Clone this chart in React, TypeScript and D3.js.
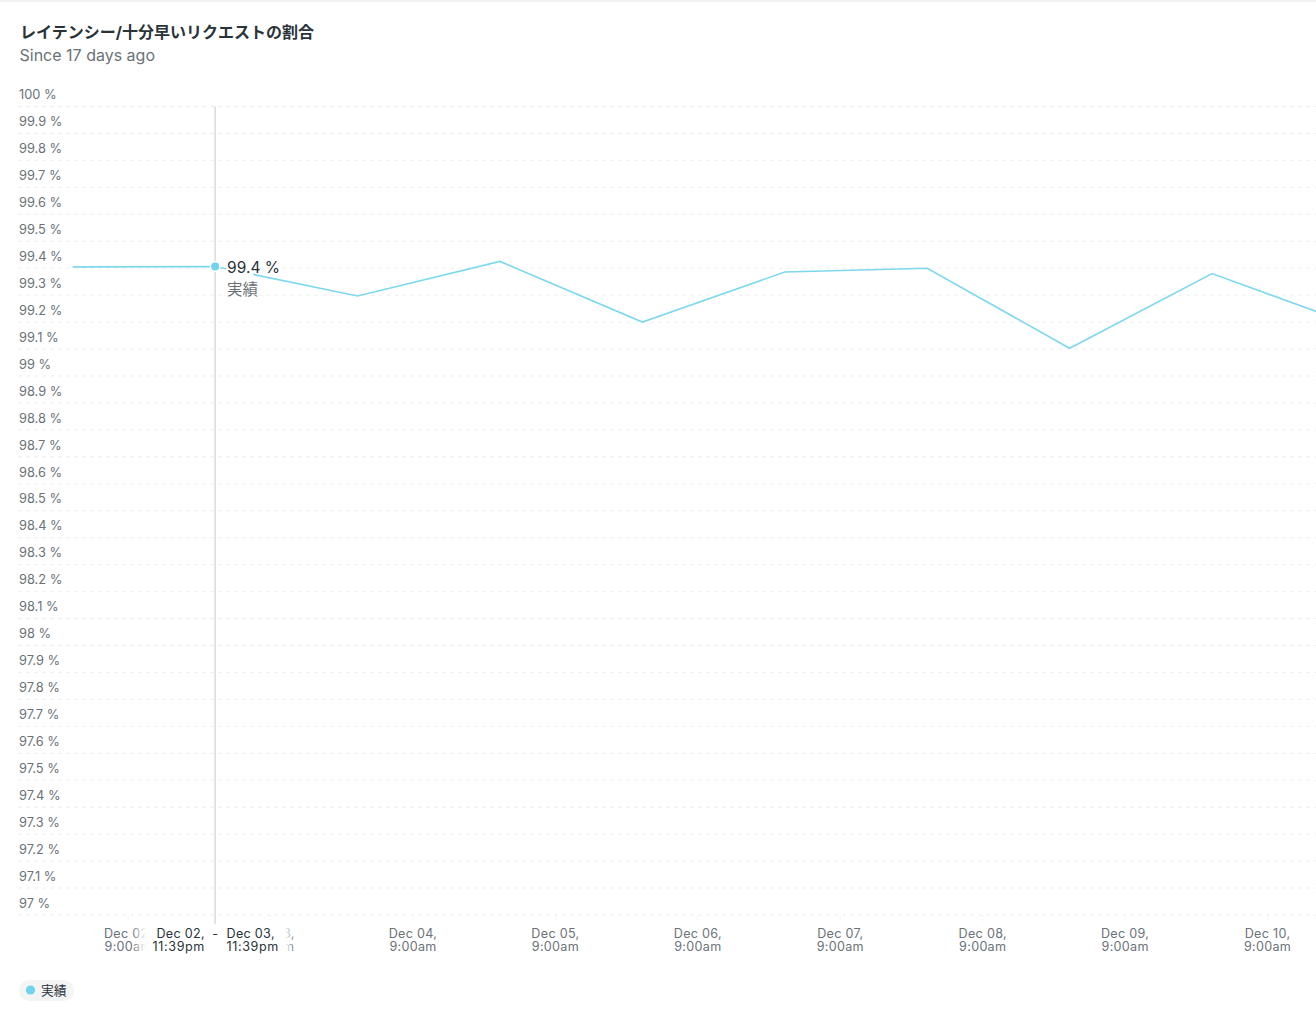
import { useEffect, useRef } from "react";
import * as d3 from "d3";

const TITLE = "レイテンシー/十分早いリクエストの割合";
const SUBTITLE = "Since 17 days ago";
const SERIES_NAME = "実績";

const POINT_TIMES = [
  "2022-12-01T23:39Z",
  "2022-12-02T23:39Z",
  "2022-12-03T23:39Z",
  "2022-12-04T23:39Z",
  "2022-12-05T23:39Z",
  "2022-12-06T23:39Z",
  "2022-12-07T23:39Z",
  "2022-12-08T23:39Z",
  "2022-12-09T23:39Z",
  "2022-12-10T23:39Z",
].map((d) => new Date(d));
const POINT_VALUES = [99.405, 99.406, 99.297, 99.425, 99.2, 99.386, 99.4, 99.103, 99.38, 99.188];

const TICK_TIMES = [
  "2022-12-02T09:00Z",
  "2022-12-03T09:00Z",
  "2022-12-04T09:00Z",
  "2022-12-05T09:00Z",
  "2022-12-06T09:00Z",
  "2022-12-07T09:00Z",
  "2022-12-08T09:00Z",
  "2022-12-09T09:00Z",
  "2022-12-10T09:00Z",
].map((d) => new Date(d));
const TICK_DAYS = ["Dec 02,", "Dec 03,", "Dec 04,", "Dec 05,", "Dec 06,", "Dec 07,", "Dec 08,", "Dec 09,", "Dec 10,"];
const TICK_HOUR = "9:00am";

const Y_TICKS = [
  100, 99.9, 99.8, 99.7, 99.6, 99.5, 99.4, 99.3, 99.2, 99.1, 99, 98.9, 98.8, 98.7, 98.6, 98.5, 98.4, 98.3, 98.2, 98.1,
  98, 97.9, 97.8, 97.7, 97.6, 97.5, 97.4, 97.3, 97.2, 97.1, 97,
];

const HOVER_INDEX = 1;
const HOVER_LABEL = "99.4 %";
const HOVER_START = ["Dec 02,", "11:39pm"];
const HOVER_END = ["Dec 03,", "11:39pm"];

const LINE_COLOR = "#7dd8ee";
const DOT_COLOR = "#6fd3f0";
const MUTED = "#6b7278";
const DARK = "#293338";
const FONT = "Inter, 'Noto Sans CJK JP', sans-serif";

export default function App() {
  const ref = useRef<SVGSVGElement | null>(null);
  const width = 1316;
  const height = 1018;

  useEffect(() => {
    const svg = d3.select(ref.current);
    svg.selectAll("*").remove();
    svg.attr("font-family", FONT);

    const x = d3
      .scaleUtc()
      .domain([POINT_TIMES[0], POINT_TIMES[POINT_TIMES.length - 1]])
      .range([72.7, 1354.5]);
    const y = d3.scaleLinear().domain([97, 100]).range([915, 106.5]);

    const defs = svg.append("defs");
    const fadeL = defs.append("linearGradient").attr("id", "fade-left");
    fadeL.append("stop").attr("offset", 0).attr("stop-color", "#fff").attr("stop-opacity", 0);
    fadeL.append("stop").attr("offset", 1).attr("stop-color", "#fff").attr("stop-opacity", 1);
    const fadeR = defs.append("linearGradient").attr("id", "fade-right");
    fadeR.append("stop").attr("offset", 0).attr("stop-color", "#fff").attr("stop-opacity", 1);
    fadeR.append("stop").attr("offset", 1).attr("stop-color", "#fff").attr("stop-opacity", 0);

    // top edge
    svg.append("rect").attr("width", width).attr("height", 2).attr("fill", "#f1f2f2");

    svg.append("text").attr("x", 20).attr("y", 38).attr("font-size", 16).attr("font-weight", 700).attr("fill", DARK).text(TITLE);
    svg.append("text").attr("x", 19.5).attr("y", 61).attr("font-size", 16).attr("fill", MUTED).text(SUBTITLE);

    // grid + y labels
    const grid = svg.append("g");
    Y_TICKS.forEach((t) => {
      grid
        .append("line")
        .attr("x1", 19)
        .attr("x2", width)
        .attr("y1", y(t))
        .attr("y2", y(t))
        .attr("stroke", "#e9ebeb")
        .attr("stroke-width", 1)
        .attr("stroke-dasharray", "3 5");
      grid
        .append("text")
        .attr("x", 19)
        .attr("y", y(t) - 7.3)
        .attr("font-size", 12.8)
        .attr("fill", MUTED)
        .text(`${t} %`);
    });

    // x ticks
    const ticks = svg.append("g");
    TICK_TIMES.forEach((t, i) => {
      ticks
        .append("line")
        .attr("x1", x(t))
        .attr("x2", x(t))
        .attr("y1", 915)
        .attr("y2", 923)
        .attr("stroke", "#f0f1f1")
        .attr("stroke-dasharray", "2 2");
      const label = ticks
        .append("text")
        .attr("text-anchor", "middle")
        .attr("font-size", 12.6)
        .attr("letter-spacing", 0.3)
        .attr("fill", MUTED);
      label.append("tspan").attr("x", x(t)).attr("y", 938).text(TICK_DAYS[i]);
      label.append("tspan").attr("x", x(t)).attr("y", 951).text(TICK_HOUR);
    });

    const line = d3
      .line<number>()
      .x((_, i) => x(POINT_TIMES[i]))
      .y((d) => y(d));
    svg
      .append("path")
      .attr("d", line(POINT_VALUES)!)
      .attr("fill", "none")
      .attr("stroke", LINE_COLOR)
      .attr("stroke-width", 1.6);

    // hover cursor
    const hx = x(POINT_TIMES[HOVER_INDEX]);
    const hy = y(POINT_VALUES[HOVER_INDEX]);
    svg
      .append("line")
      .attr("x1", hx)
      .attr("x2", hx)
      .attr("y1", 106.5)
      .attr("y2", 925)
      .attr("stroke", "#cfd2d3")
      .attr("stroke-width", 1.2);

    svg.append("rect").attr("x", 226.5).attr("y", 258).attr("width", 26.5).attr("height", 40).attr("fill", "#fff");
    svg.append("circle").attr("cx", hx).attr("cy", hy).attr("r", 5.5).attr("fill", "#fff");
    svg.append("circle").attr("cx", hx).attr("cy", hy).attr("r", 4).attr("fill", DOT_COLOR);
    svg.append("text").attr("x", hx + 12).attr("y", hy + 6).attr("font-size", 15.5).attr("fill", DARK).text(HOVER_LABEL);
    svg.append("text").attr("x", hx + 12).attr("y", hy + 28).attr("font-size", 15.5).attr("fill", MUTED).text(SERIES_NAME);

    // range label over the axis
    svg.append("rect").attr("x", 132).attr("y", 924).attr("width", 14).attr("height", 32).attr("fill", "url(#fade-left)");
    svg.append("rect").attr("x", 146).attr("y", 924).attr("width", 139).attr("height", 32).attr("fill", "#fff");
    svg.append("rect").attr("x", 285).attr("y", 924).attr("width", 10).attr("height", 32).attr("fill", "url(#fade-right)");
    const rangeLabel = (lines: string[], pos: number, anchor: string) => {
      const g = svg.append("text").attr("text-anchor", anchor).attr("font-size", 12.6).attr("letter-spacing", 0.3).attr("fill", DARK);
      g.append("tspan").attr("x", pos).attr("y", 938).text(lines[0]);
      g.append("tspan").attr("x", pos).attr("y", 951).attr("letter-spacing", 0.6).text(lines[1]);
    };
    rangeLabel(HOVER_START, 205, "end");
    rangeLabel(HOVER_END, 226.5, "start");
    svg.append("text").attr("x", hx).attr("y", 938).attr("text-anchor", "middle").attr("font-size", 12.6).attr("fill", DARK).text("-");

    // legend
    svg.append("rect").attr("x", 19).attr("y", 980).attr("width", 55).attr("height", 21).attr("rx", 10.5).attr("fill", "#f3f4f4");
    svg.append("circle").attr("cx", 30.5).attr("cy", 990).attr("r", 4.6).attr("fill", DOT_COLOR);
    svg.append("text").attr("x", 41).attr("y", 995).attr("font-size", 12.8).attr("fill", DARK).text(SERIES_NAME);
  }, []);

  return <svg ref={ref} width={width} height={height} style={{ position: "absolute", left: 0, top: 0, background: "#fff" }} />;
}
